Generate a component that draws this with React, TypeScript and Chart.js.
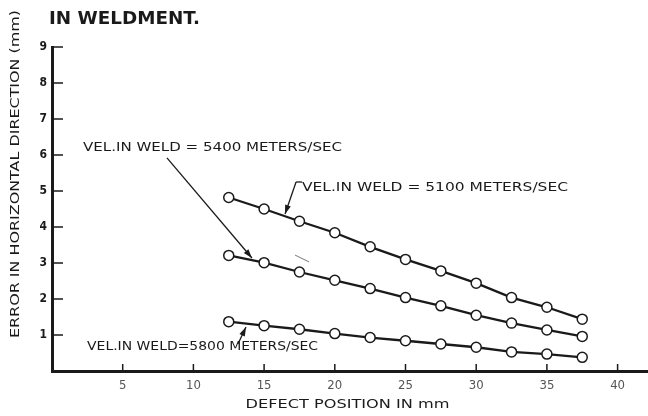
import { useEffect, useRef } from "react";
import { Chart, registerables } from "chart.js";

Chart.register(...registerables);

// ---- data ----
const defectPositions = [12.5, 15, 17.5, 20, 22.5, 25, 27.5, 30, 32.5, 35, 37.5];
const error5100 = [4.82, 4.5, 4.16, 3.84, 3.45, 3.1, 2.78, 2.44, 2.04, 1.77, 1.44];
const error5400 = [3.21, 3.01, 2.75, 2.52, 2.29, 2.04, 1.81, 1.55, 1.33, 1.14, 0.96];
const error5800 = [1.37, 1.26, 1.16, 1.04, 0.93, 0.84, 0.75, 0.66, 0.53, 0.47, 0.38];

const chartTitle = "IN WELDMENT.";
const yAxisTitle = "ERROR IN HORIZONTAL DIRECTION (mm)";
const xAxisTitle = "DEFECT POSITION IN mm";
const velocityLabels = [
  "VEL.IN WELD = 5400 METERS/SEC",
  "VEL.IN WELD = 5100 METERS/SEC",
  "VEL.IN WELD=5800 METERS/SEC",
];
// label anchors (data units): left edge x, centre y
const labelAnchorX = [2.19, 17.68, 2.48];
const labelAnchorY = [6.21, 5.08, 0.67];
const labelWidths = [259, 266, 231];

const INK = "#1a1a1a";

function fitText(
  ctx: CanvasRenderingContext2D,
  text: string,
  x: number,
  y: number,
  w: number,
  font: string,
  align: "left" | "center" = "left",
  rotate = 0
) {
  ctx.save();
  ctx.font = font;
  const m = ctx.measureText(text).width;
  ctx.translate(x, y);
  if (rotate) ctx.rotate(rotate);
  ctx.scale(w / m, 1);
  ctx.textBaseline = "middle";
  ctx.textAlign = "left";
  ctx.fillText(text, align === "center" ? -m / 2 : 0, 0);
  ctx.restore();
}

function arrow(
  ctx: CanvasRenderingContext2D,
  x1: number,
  y1: number,
  x2: number,
  y2: number
) {
  ctx.beginPath();
  ctx.moveTo(x1, y1);
  ctx.lineTo(x2, y2);
  ctx.stroke();
  const a = Math.atan2(y2 - y1, x2 - x1);
  const L = 9;
  const H = 3;
  ctx.beginPath();
  ctx.moveTo(x2, y2);
  ctx.lineTo(x2 - L * Math.cos(a) + H * Math.sin(a), y2 - L * Math.sin(a) - H * Math.cos(a));
  ctx.lineTo(x2 - L * Math.cos(a) - H * Math.sin(a), y2 - L * Math.sin(a) + H * Math.cos(a));
  ctx.closePath();
  ctx.fill();
}

const overlayPlugin = {
  id: "overlay",
  afterDraw(chart: any) {
    const { ctx, chartArea, scales } = chart;
    const xs = scales.x;
    const ys = scales.y;
    const px = (v: number) => xs.getPixelForValue(v);
    const py = (v: number) => ys.getPixelForValue(v);
    ctx.save();
    ctx.strokeStyle = INK;
    ctx.fillStyle = INK;
    ctx.lineWidth = 1.5;
    // inward tick marks
    for (const t of ys.ticks) {
      if (t.value <= 0) continue;
      const yy = py(t.value);
      ctx.beginPath();
      ctx.moveTo(chartArea.left, yy);
      ctx.lineTo(chartArea.left + 11, yy);
      ctx.stroke();
    }
    for (const t of xs.ticks) {
      if (t.value <= 0) continue;
      const xx = px(t.value);
      ctx.beginPath();
      ctx.moveTo(xx, chartArea.bottom);
      ctx.lineTo(xx, chartArea.bottom - 7);
      ctx.stroke();
    }

    // titles
    fitText(ctx, chartTitle, chartArea.left - 3, chartArea.top - 27, 151, "bold 17px 'DejaVu Sans', sans-serif");
    fitText(
      ctx,
      yAxisTitle,
      16,
      (chartArea.top + chartArea.bottom) / 2 - 35,
      328,
      "12px 'DejaVu Sans', sans-serif",
      "center",
      -Math.PI / 2
    );
    fitText(ctx, xAxisTitle, px(20.9), chartArea.bottom + 34, 204, "12px 'DejaVu Sans', sans-serif", "center");

    // curve labels
    for (let i = 0; i < velocityLabels.length; i++) {
      fitText(
        ctx,
        velocityLabels[i],
        px(labelAnchorX[i]),
        py(labelAnchorY[i]),
        labelWidths[i],
        "13px 'DejaVu Sans', sans-serif"
      );
    }

    // leaders
    ctx.lineWidth = 1.3;
    arrow(ctx, px(8.13), py(5.92), px(14.14), py(3.14));
    ctx.beginPath();
    ctx.moveTo(px(17.68), py(5.25));
    ctx.lineTo(px(17.26), py(5.25));
    ctx.stroke();
    arrow(ctx, px(17.26), py(5.25), px(16.48), py(4.36));
    arrow(ctx, px(13.15), py(0.75), px(13.72), py(1.22));

    // stray pen mark in the original
    ctx.strokeStyle = "#777";
    ctx.lineWidth = 1;
    ctx.beginPath();
    ctx.moveTo(px(17.19), py(3.22));
    ctx.lineTo(px(18.18), py(3.03));
    ctx.stroke();
    ctx.restore();
  },
};

function series(vals: number[]) {
  return vals.map((v, i) => ({ x: defectPositions[i], y: v }));
}

export default function App() {
  const ref = useRef<HTMLCanvasElement | null>(null);
  useEffect(() => {
    document.body.style.margin = "0";
    const canvas = ref.current;
    if (!canvas) return;
    const common = {
      showLine: true,
      borderColor: INK,
      borderWidth: 2.3,
      pointRadius: 5,
      pointBorderWidth: 1.5,
      pointBackgroundColor: "#ffffff",
      pointBorderColor: INK,
      tension: 0,
    };
    const chart = new Chart(canvas, {
      type: "scatter",
      data: {
        datasets: [
          { ...common, label: velocityLabels[1], data: series(error5100) },
          { ...common, label: velocityLabels[0], data: series(error5400) },
          { ...common, label: velocityLabels[2], data: series(error5800) },
        ],
      },
      options: {
        responsive: false,
        animation: false,
        layout: { autoPadding: false, padding: { top: 47, left: 0, right: 0, bottom: 0 } },
        plugins: {
          legend: { display: false },
          tooltip: { enabled: false },
          title: { display: false },
        },
        scales: {
          x: {
            type: "linear",
            min: 0,
            max: 42.15,
            grid: { display: false, drawTicks: false },
            border: { display: true, color: INK, width: 3 },
            ticks: {
              stepSize: 5,
              includeBounds: false,
              padding: 7,
              color: "#555",
              font: { family: "'Liberation Sans Narrow', 'DejaVu Sans Condensed', sans-serif", size: 13 },
              callback: (v: any) => (Number(v) === 0 ? "" : String(v)),
            },
            afterFit: (s: any) => {
              s.height = 45;
            },
          },
          y: {
            type: "linear",
            min: 0,
            max: 9,
            grid: { display: false, drawTicks: false },
            border: { display: true, color: INK, width: 3 },
            ticks: {
              stepSize: 1,
              padding: 5,
              color: INK,
              font: { family: "'DejaVu Sans Condensed', 'DejaVu Sans', sans-serif", size: 12, weight: "bold" },
              callback: (v: any) => (Number(v) === 0 ? "" : String(v)),
            },
            afterFit: (s: any) => {
              s.width = 52;
            },
          },
        },
      },
      plugins: [overlayPlugin],
    } as any);
    return () => chart.destroy();
  }, []);
  return (
    <div style={{ width: 648, height: 416, background: "#fff" }}>
      <canvas ref={ref} width={648} height={416} style={{ display: "block" }} />
    </div>
  );
}
